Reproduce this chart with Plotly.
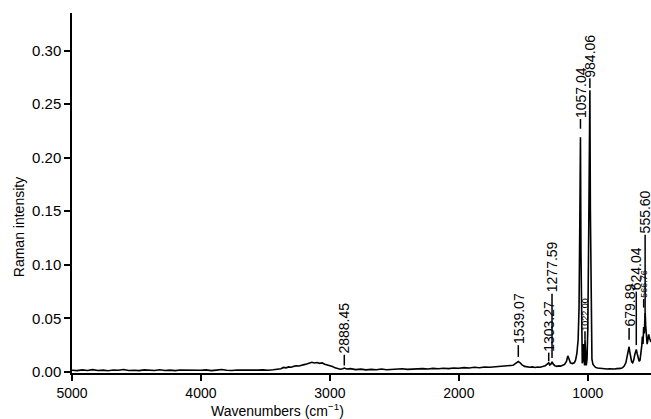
import plotly.graph_objects as go

# Spectrum (wavenumber cm^-1, Raman intensity)
wavenumbers = [
    5000, 4960, 4920, 4880, 4840, 4800, 4760, 4720, 4680, 4640, 4600, 4560, 4520, 4480,
    4440, 4400, 4360, 4320, 4280, 4240, 4200, 4160, 4120, 4080, 4040, 4000, 3960, 3920,
    3880, 3840, 3800, 3760, 3720, 3680, 3640, 3600, 3560, 3520, 3480, 3440, 3400,
    3380, 3360, 3340, 3320, 3300, 3280, 3260, 3240, 3220, 3200, 3180, 3160, 3140, 3120,
    3100, 3080, 3060, 3040, 3020, 3000, 2980, 2960, 2940, 2920,
    2900, 2888, 2870, 2840, 2800, 2760, 2720, 2680, 2640, 2600, 2560, 2520, 2480, 2440,
    2400, 2360, 2320, 2280, 2240, 2200, 2160, 2120, 2080, 2040, 2000, 1960, 1920, 1880,
    1840, 1800, 1760, 1720, 1680, 1640, 1600,
    1580, 1565, 1550, 1539, 1525, 1510, 1490, 1470, 1450, 1430, 1410, 1390, 1370, 1350,
    1330, 1315, 1303, 1295, 1285, 1277, 1268, 1255, 1240, 1225, 1210, 1195, 1180, 1165,
    1155, 1147, 1135, 1120, 1105, 1095, 1085, 1075, 1068, 1062, 1057, 1053, 1048, 1043,
    1038, 1033, 1029, 1025, 1022, 1018, 1012, 1006, 1000, 993, 988, 984, 980, 975, 968,
    960, 950, 940, 925, 910, 895, 880, 865, 850, 835, 820, 805, 790, 775, 760, 745, 730,
    718, 705, 694, 686, 680, 675, 668, 660, 652, 644, 636, 628, 624, 618, 610, 602, 595,
    588, 582, 577, 572, 567, 562, 558, 555, 551, 546, 540, 534, 528, 520, 510,
]
intensity = [
    0.0016, 0.0012, 0.0019, 0.0014, 0.0021, 0.0013, 0.0017, 0.0011, 0.0018, 0.0015, 0.0022, 0.0014, 0.0016, 0.0012,
    0.0019, 0.0015, 0.0013, 0.0020, 0.0014, 0.0017, 0.0012, 0.0018, 0.0016, 0.0021, 0.0013, 0.0015, 0.0019, 0.0012,
    0.0017, 0.0022, 0.0015, 0.0013, 0.0018, 0.0016, 0.0020, 0.0014, 0.0017, 0.0019, 0.0016, 0.0021, 0.0024,
    0.0030, 0.0042, 0.0038, 0.0047, 0.0044, 0.0052, 0.0058, 0.0055, 0.0064, 0.0068, 0.0074, 0.0079, 0.0090, 0.0083,
    0.0088, 0.0080, 0.0084, 0.0072, 0.0066, 0.0058, 0.0050, 0.0038, 0.0030, 0.0025,
    0.0030, 0.0036, 0.0027, 0.0031, 0.0022, 0.0026, 0.0019, 0.0024, 0.0020, 0.0027, 0.0021, 0.0025, 0.0022, 0.0029,
    0.0024, 0.0028, 0.0025, 0.0031, 0.0027, 0.0033, 0.0029, 0.0035, 0.0031, 0.0037, 0.0034, 0.0040, 0.0036, 0.0043,
    0.0039, 0.0046, 0.0044, 0.0049, 0.0047, 0.0054, 0.0058,
    0.0062, 0.0075, 0.0090, 0.0097, 0.0085, 0.0066, 0.0052, 0.0048, 0.0044, 0.0047, 0.0042, 0.0046, 0.0044, 0.0050,
    0.0058, 0.0072, 0.0085, 0.0065, 0.0075, 0.0095, 0.0072, 0.0058, 0.0052, 0.0056, 0.0054, 0.0062, 0.0070, 0.0100,
    0.0150, 0.0125, 0.0085, 0.0078, 0.0085, 0.0110, 0.0170, 0.0300, 0.0600, 0.1400, 0.2190, 0.1100, 0.0300, 0.0080,
    0.0120, 0.0260, 0.0120, 0.0060, 0.0300, 0.0090, 0.0060, 0.0120, 0.0400, 0.1300, 0.2200, 0.2630, 0.1500, 0.0400, 0.0120,
    0.0070, 0.0050, 0.0042, 0.0036, 0.0033, 0.0030, 0.0028, 0.0031, 0.0027, 0.0029, 0.0026, 0.0030, 0.0027, 0.0031, 0.0029, 0.0033, 0.0040,
    0.0055, 0.0085, 0.0140, 0.0200, 0.0235, 0.0190, 0.0120, 0.0095, 0.0085, 0.0110, 0.0160, 0.0200, 0.0210, 0.0175, 0.0120, 0.0100, 0.0110,
    0.0160, 0.0240, 0.0330, 0.0260, 0.0420, 0.0360, 0.0480, 0.0550, 0.0430, 0.0320, 0.0260, 0.0300, 0.0350, 0.0310, 0.0280,
]

# Peak labels: text, position, where the leader starts and where the text starts
peak_labels = ["2888.45", "1539.07", "1303.27", "1277.59", "1057.04", "984.06",
               "1022.00", "679.89", "624.04", "566.76", "555.60"]
peak_pos = [2888.45, 1539.07, 1303.27, 1277.59, 1057.04, 984.06,
            1022.00, 679.89, 624.04, 566.76, 555.60]
leader_from = [0.006, 0.014, 0.010, 0.013, 0.227, 0.265,
               0.030, 0.030, 0.025, 0.060, 0.050]
label_from = [0.016, 0.025, 0.018, 0.073, 0.236, 0.274,
              0.038, 0.041, 0.075, 0.068, 0.128]
label_small = [False, False, False, False, False, False,
               True, False, False, True, False]

x_ticks = [5000, 4000, 3000, 2000, 1000]
y_ticks = [0.00, 0.05, 0.10, 0.15, 0.20, 0.25, 0.30]
x_title = "Wavenumbers (cm<sup>−1</sup>)"
y_title = "Raman intensity"

FONT = "Liberation Sans, Arial, Helvetica, sans-serif"

fig = go.Figure()
fig.add_trace(go.Scatter(
    x=wavenumbers, y=intensity, mode="lines",
    line=dict(color="black", width=1.6), showlegend=False, hoverinfo="skip",
))

for txt, px, y0, y1, small in zip(peak_labels, peak_pos, leader_from, label_from, label_small):
    fig.add_shape(type="line", xref="x", yref="y", x0=px, x1=px, y0=y0, y1=y1,
                  line=dict(color="black", width=1.5))
    fig.add_annotation(
        x=px, y=y1, xref="x", yref="y",
        text=txt, textangle=-90, showarrow=False,
        xanchor="center", yanchor="bottom", borderpad=0,
        font=dict(family=FONT, size=9 if small else 14, color="black"),
    )

# axis titles
fig.add_annotation(text=x_title, xref="paper", yref="paper", x=0.355, y=0,
                   yshift=-47, xanchor="center", yanchor="bottom", showarrow=False,
                   borderpad=0, font=dict(family=FONT, size=14, color="black"))
fig.add_annotation(text=y_title, xref="paper", yref="paper", x=0, y=0.405,
                   xshift=-53, xanchor="center", yanchor="middle", textangle=-90,
                   showarrow=False, font=dict(family=FONT, size=14, color="black"))

fig.update_layout(
    width=651, height=419,
    margin=dict(l=72, r=0, t=13, b=46),
    paper_bgcolor="white", plot_bgcolor="white",
    font=dict(family=FONT, size=14, color="black"),
    showlegend=False,
)
fig.update_xaxes(
    range=[5000, 510], tickvals=x_ticks, ticktext=[str(v) for v in x_ticks],
    ticks="outside", ticklen=6, tickwidth=1.5, tickcolor="black",
    showline=True, linecolor="black", linewidth=1.5, showgrid=False, zeroline=False,
    tickfont=dict(size=14),
)
fig.update_yaxes(
    range=[-0.001, 0.335], tickvals=y_ticks, ticktext=[f"{v:.2f}" for v in y_ticks],
    ticks="outside", ticklen=6, tickwidth=1.5, tickcolor="black",
    showline=True, linecolor="black", linewidth=1.5, showgrid=False, zeroline=False,
    tickfont=dict(size=15),
)

fig.write_html("out.html", config={"displayModeBar": False},
               post_script="document.body.style.margin='0';")
